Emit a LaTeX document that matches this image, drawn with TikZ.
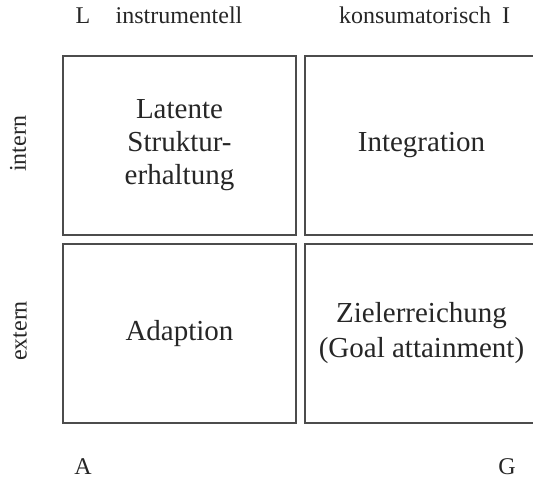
\documentclass[tikz,border=0pt]{standalone}
\usepackage{fontspec}
\setmainfont{Liberation Serif}
\begin{document}
\begin{tikzpicture}[x=1pt,y=1pt,
  cell/.style={draw=black!70, line width=1.6pt, rectangle, minimum width=233pt, minimum height=179pt, align=center, inner sep=0pt, text=black!85, font=\fontsize{29}{33}\selectfont},
  lbl/.style={text=black!85, font=\fontsize{24}{28}\selectfont, inner sep=0pt},
  side/.style={lbl, rotate=90, anchor=center}]
\useasboundingbox (0,0) rectangle (533,480);
\clip (0,0) rectangle (533,480);
\node[cell] (li) at (179.5,334.5) {Latente\\Struktur-\\erhaltung};
\node[cell] (ii) at (421.5,334.5) {Integration};
\node[cell] (ad) at (179.5,146.5) {Adaption};
\node[cell, font=\fontsize{29}{35}\selectfont] (go) at (421.5,146.5) {Zielerreichung\\(Goal attainment)};
\node[lbl, anchor=base] (L) at (83,456) {L};
\node[lbl, anchor=base] (instr) at (179,456) {instrumentell};
\node[lbl, anchor=base] (kons) at (415,456) {konsumatorisch};
\node[lbl, anchor=base] (I) at (506,456) {I};
\node[lbl, anchor=base] (A) at (83,6) {A};
\node[lbl, anchor=base] (G) at (507,6) {G};
\node[side] (intern) at (18,336) {intern};
\node[side] (extern) at (20,149) {extern};
\end{tikzpicture}
\end{document}
